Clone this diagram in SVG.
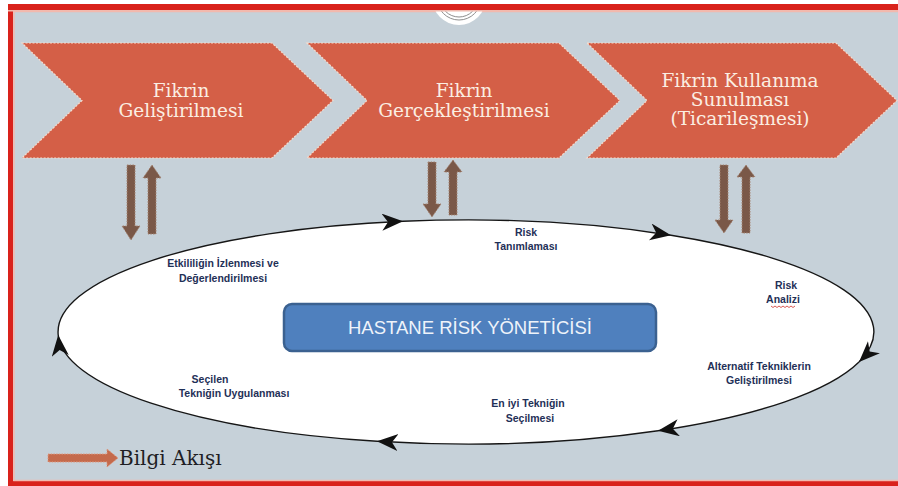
<svg xmlns="http://www.w3.org/2000/svg" width="898" height="486" viewBox="0 0 898 486">
<defs>
<style>
.chev{fill:#d45f47;stroke:#f6dccd;stroke-width:1.2;stroke-dasharray:2 1.5}
.ctext{font-family:"DejaVu Serif","Liberation Serif",serif;font-size:18.5px;fill:#fbeee2;text-anchor:middle}
.flow{fill:#7a5848;stroke:#a58472;stroke-width:1;stroke-dasharray:1.5 1.2}
.lbl{font-family:"Liberation Sans",Arial,sans-serif;font-weight:bold;font-size:10.5px;fill:#1f3057;text-anchor:middle}
.cyc{fill:none;stroke:#161616;stroke-width:1.4}
</style>
<marker id="ah" markerUnits="userSpaceOnUse" markerWidth="26" markerHeight="20" refX="21" refY="8.5" orient="auto">
<path d="M0,0 L21,8.5 L0,17 L6,8.5 Z" fill="#111"/>
</marker>
</defs>
<rect x="0" y="0" width="898" height="486" fill="#ffffff"/>
<rect x="12" y="10" width="900" height="472" fill="#c6d1d9"/>
<g id="frame">
<rect x="10.5" y="6.5" width="920" height="477" fill="none" stroke="#d9221b" stroke-width="5"/>
<rect x="14" y="11.5" width="910" height="469" fill="none" stroke="#f2b9ae" stroke-width="1.5"/>
<circle cx="459" cy="-2" r="27" fill="#ffffff"/>
<circle cx="459" cy="-2" r="22" fill="none" stroke="#8e8e8e" stroke-width="1"/>
<circle cx="459" cy="-2" r="19" fill="none" stroke="#8e8e8e" stroke-width="1"/>
<rect x="0" y="0" width="898" height="4" fill="#ffffff"/>
<rect x="8" y="4" width="890" height="6" fill="#d9221b"/>
<rect x="8" y="10" width="890" height="1.5" fill="#f2b9ae"/>
</g>
<g id="chevron1">
<polygon class="chev" points="22,43 272,43 333,100.5 272,158 22,158 82,100.5"/>
<text class="ctext" x="181" y="97">Fikrin</text>
<text class="ctext" x="181" y="117">Geliştirilmesi</text>
</g>
<g id="chevron2">
<polygon class="chev" points="307,43 559,43 620,100.5 559,158 307,158 367,100.5"/>
<text class="ctext" x="464" y="97">Fikrin</text>
<text class="ctext" x="464" y="117">Gerçekleştirilmesi</text>
</g>
<g id="chevron3">
<polygon class="chev" points="587,43 836,43 897,100.5 836,158 587,158 647,100.5"/>
<text class="ctext" x="740" y="87">Fikrin Kullanıma</text>
<text class="ctext" x="740" y="106">Sunulması</text>
<text class="ctext" x="740" y="125">(Ticarileşmesi)</text>
</g>
<g id="flows">
<polygon class="flow" points="127,165 135,165 135,226 140,226 131,240 122,226 127,226"/>
<polygon class="flow" points="152,165 161,178 156,178 156,234 148,234 148,178 143,178"/>
<polygon class="flow" points="428,162 436,162 436,204 441,204 432,217 423,204 428,204"/>
<polygon class="flow" points="453,160 462,172 457,172 457,215 449,215 449,172 444,172"/>
<polygon class="flow" points="720,165 728,165 728,220 733,220 724,233 715,220 720,220"/>
<polygon class="flow" points="746,165 755,177 750,177 750,233 742,233 742,177 737,177"/>
</g>
<g id="cycle">
<ellipse cx="466" cy="332" rx="408" ry="112" fill="#ffffff"/>
</g>
<g id="connectors">
<path class="cyc" marker-end="url(#ah)" d="M58.2,335 A408,112 0 0 1 403,221.3"/>
<path class="cyc" marker-end="url(#ah)" d="M403,221.3 A408,112 0 0 1 671,235.2"/>
<path class="cyc" marker-end="url(#ah)" d="M671,235.2 A408,112 0 0 1 859,362"/>
<path class="cyc" marker-end="url(#ah)" d="M859,362 A408,112 0 0 1 658,430.8"/>
<path class="cyc" marker-end="url(#ah)" d="M658,430.8 A408,112 0 0 1 377,441.3"/>
<path class="cyc" marker-end="url(#ah)" d="M377,441.3 A408,112 0 0 1 58.2,335"/>
</g>
<g id="manager">
<rect x="284" y="304" width="372" height="47" rx="8" fill="#4f80be" stroke="#3b6190" stroke-width="2.5"/>
<text x="470" y="334" font-family="Liberation Sans,Arial,sans-serif" font-size="18.5" fill="#eef3fa" text-anchor="middle">HASTANE RİSK YÖNETİCİSİ</text>
</g>
<g id="step-monitor">
<text class="lbl" x="223" y="267">Etkililiğin İzlenmesi ve</text>
<text class="lbl" x="223" y="282">Değerlendirilmesi</text>
</g>
<g id="step-identify">
<text class="lbl" x="526" y="236">Risk</text>
<text class="lbl" x="526" y="250">Tanımlaması</text>
</g>
<g id="step-analyze">
<text class="lbl" x="786" y="289">Risk</text>
<text class="lbl" x="783" y="303">Analizi</text>
<path d="M771,306 l2,1.5 l2,-1.5 l2,1.5 l2,-1.5 l2,1.5 l2,-1.5 l2,1.5 l2,-1.5 l2,1.5 l2,-1.5 l2,1.5 l2,-1.5" fill="none" stroke="#d0302a" stroke-width="0.8"/>
</g>
<g id="step-alternatives">
<text class="lbl" x="759" y="370">Alternatif Tekniklerin</text>
<text class="lbl" x="759" y="384">Geliştirilmesi</text>
</g>
<g id="step-select">
<text class="lbl" x="528" y="407">En iyi Tekniğin</text>
<text class="lbl" x="530" y="422">Seçilmesi</text>
</g>
<g id="step-apply">
<text class="lbl" x="210" y="383">Seçilen</text>
<text class="lbl" x="234" y="397">Tekniğin Uygulanması</text>
</g>
<g id="legend">
<polygon points="48,454 107,454 107,449 118,458 107,467 107,462 48,462" fill="#c46a4c" stroke="#e09a80" stroke-width="1" stroke-dasharray="1.5 1.2"/>
<text x="119" y="465" font-family="DejaVu Serif,Liberation Serif,serif" font-size="20" fill="#1e1e24">Bilgi Akışı</text>
</g>
</svg>
